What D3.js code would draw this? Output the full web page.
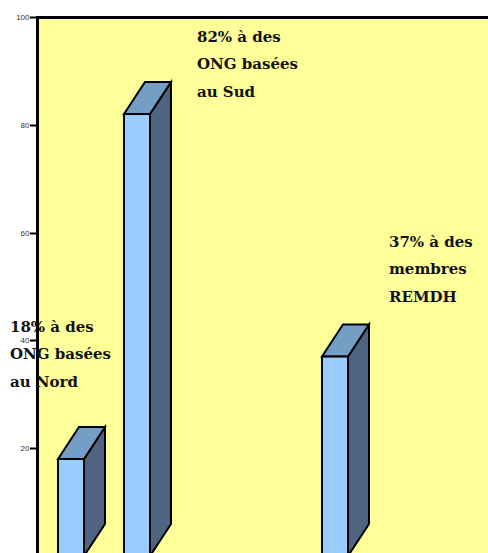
<!DOCTYPE html>
<html>
<head>
<meta charset="utf-8">
<script src="https://cdn.jsdelivr.net/npm/d3@7"></script>
<style>
  html, body { margin: 0; padding: 0; background: #ffffff; }
  svg { display: block; }
</style>
</head>
<body>
<svg id="chart" width="488" height="553"></svg>
<script>
// Share of recipients, in percent
const groups = ["ONG", "REMDH"];
const categories = ["ONG basées au Nord", "ONG basées au Sud", "membres REMDH"];
const categoryGroup = ["ONG", "ONG", "REMDH"];
const values = [18, 82, 37];
const labelLines = [
  ["à des", "ONG basées", "au Nord"],
  ["à des", "ONG basées", "au Sud"],
  ["à des", "membres", "REMDH"]
];
const yTicks = [20, 40, 60, 80, 100];

const svg = d3.select("#chart");
const plot = { left: 37.5, top: 17.5, right: 600, bottom: 600 };

// Value axis: 100 at the top frame, 0 just below the visible area
const y = d3.scaleLinear().domain([0, 100]).range([556, 17]);

// Clustered layout: groups, then slots within each group
const xGroup = d3.scaleBand().domain(groups).range([37, 37 + 2 * 264]);
const xSlot = d3.scaleBand().domain([0, 1]).range([21, 113])
  .paddingInner(40 / 66).paddingOuter(0);

const depth = { dx: 21, dy: -32 };

// Plot area
svg.append("rect")
  .attr("x", plot.left).attr("y", plot.top)
  .attr("width", plot.right - plot.left).attr("height", plot.bottom - plot.top)
  .attr("fill", "#ffff99")
  .attr("stroke", "#000").attr("stroke-width", 3);

// Bars
const bars = categories.map((c, i) => {
  const g = categoryGroup[i];
  const slot = categoryGroup.slice(0, i).filter(d => d === g).length;
  return { name: c, value: values[i], x0: xGroup(g) + xSlot(slot), w: xSlot.bandwidth(), lines: labelLines[i] };
});

const barG = svg.append("g").attr("stroke", "#000").attr("stroke-width", 2).attr("stroke-linejoin", "miter");

bars.forEach(b => {
  const x0 = b.x0, x1 = b.x0 + b.w;
  const yv = y(b.value), yb = y(0);
  const { dx, dy } = depth;
  // side face
  barG.append("polygon")
    .attr("points", [[x1, yv], [x1 + dx, yv + dy], [x1 + dx, yb + dy], [x1, yb]].map(p => p.join(",")).join(" "))
    .attr("fill", "#4f6480");
  // top face
  barG.append("polygon")
    .attr("points", [[x0, yv], [x0 + dx, yv + dy], [x1 + dx, yv + dy], [x1, yv]].map(p => p.join(",")).join(" "))
    .attr("fill", "#749ec6");
  // front face
  barG.append("rect")
    .attr("x", x0).attr("y", yv).attr("width", b.w).attr("height", yb - yv)
    .attr("fill", "#99ccff");
});

// Value axis
const axisG = svg.append("g");
axisG.append("line")
  .attr("x1", 37.5).attr("x2", 37.5).attr("y1", 16).attr("y2", 560)
  .attr("stroke", "#000").attr("stroke-width", 3);
yTicks.forEach(t => {
  const ty = Math.round(y(t)) + 0.5;
  axisG.append("line")
    .attr("x1", 30).attr("x2", 37).attr("y1", ty).attr("y2", ty)
    .attr("stroke", "#000").attr("stroke-width", 2);
  axisG.append("text")
    .attr("x", 29.5).attr("y", ty).attr("dy", "0.35em")
    .attr("text-anchor", "end")
    .attr("font-family", "Liberation Sans, Arial, sans-serif")
    .attr("font-size", 8)
    .attr("fill", "#333")
    .text(t);
});

// Annotations stating each share
const labelPos = [
  { x: 10, y: 331.5 },
  { x: 197, y: 41.5 },
  { x: 389, y: 246.5 }
];
bars.forEach((b, i) => {
  const t = svg.append("text")
    .attr("x", labelPos[i].x).attr("y", labelPos[i].y)
    .attr("font-family", "Palatino Linotype, Book Antiqua, DejaVu Serif, serif")
    .attr("font-weight", "bold")
    .attr("font-size", 15)
    .attr("fill", "#111");
  const lines = [`${b.value}% ${b.lines[0]}`, b.lines[1], b.lines[2]];
  lines.forEach((ln, k) => {
    t.append("tspan").attr("x", labelPos[i].x).attr("y", labelPos[i].y + k * 27.5).text(ln);
  });
});
</script>
</body>
</html>
